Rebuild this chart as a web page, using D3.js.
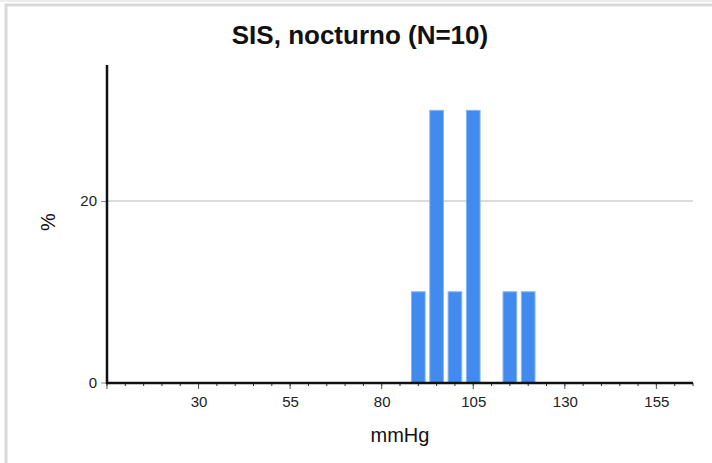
<!DOCTYPE html>
<html><head><meta charset="utf-8">
<script src="https://cdn.jsdelivr.net/npm/d3@7"></script>
<style>body{margin:0;background:#fff}svg{display:block}text{font-family:"Liberation Sans",Arial,sans-serif}</style>
</head><body>
<svg id="c" width="712" height="463"></svg>
<script>
const binCenters = [90, 95, 100, 105, 115, 120];
const percents = [10, 30, 10, 30, 10, 10];
const xTickValues = [30, 55, 80, 105, 130, 155];
const yTickValues = [0, 20];
const title = "SIS, nocturno (N=10)";
const xLabel = "mmHg";
const yLabel = "%";

const svg = d3.select("#c");
svg.append("rect").attr("x",-1).attr("y",-1).attr("width",714).attr("height",3).attr("fill","#ececec");
svg.append("rect").attr("x",6).attr("y",5).attr("width",720).attr("height",470)
  .attr("fill","none").attr("stroke","#d9d9d9").attr("stroke-width",3);

const x = d3.scaleLinear().domain([5,165]).range([107,693]);
const y = d3.scaleLinear().domain([0,35]).range([382.5,65]);

// gridline
svg.selectAll(".grid").data(yTickValues.filter(v=>v>0)).join("line")
  .attr("x1",107).attr("x2",693).attr("y1",d=>y(d)).attr("y2",d=>y(d))
  .attr("stroke","#dcdcdc").attr("stroke-width",2);

// bars
const bw = x(5)-x(0);
svg.selectAll(".bar").data(binCenters).join("rect")
  .attr("x",(d)=>x(d)-bw*0.4+0.5).attr("width",bw*0.8-1)
  .attr("y",(d,i)=>y(percents[i])).attr("height",(d,i)=>y(0)-y(percents[i]))
  .attr("fill","#418bef").attr("stroke","#86b3f3").attr("stroke-width",1);

// x axis minor ticks
const minor = d3.range(5,166,5);
svg.selectAll(".mt").data(minor).join("line")
  .attr("x1",d=>x(d)).attr("x2",d=>x(d)).attr("y1",383).attr("y2",386)
  .attr("stroke","#333").attr("stroke-width",1);
svg.selectAll(".Mt").data([5].concat(xTickValues)).join("line")
  .attr("x1",d=>x(d)).attr("x2",d=>x(d)).attr("y1",383).attr("y2",389)
  .attr("stroke","#555").attr("stroke-width",1);
const xAxis = d3.axisBottom(x).tickValues(xTickValues).tickSize(0).tickPadding(13);
const gx = svg.append("g").attr("transform","translate(0,383)").call(xAxis);
gx.select(".domain").remove();
gx.selectAll("text").attr("font-size",15).attr("fill","#222").attr("font-family","Liberation Sans, Arial, sans-serif");
svg.append("line").attr("x1",106).attr("x2",693).attr("y1",383).attr("y2",383).attr("stroke","#111").attr("stroke-width",2.5);

// y axis
const yAxis = d3.axisLeft(y).tickValues(yTickValues).tickSize(6).tickPadding(4);
const gy = svg.append("g").attr("transform","translate(107,0)").call(yAxis);
gy.select(".domain").remove();
gy.selectAll("line").attr("stroke","#888");
gy.selectAll("text").attr("font-size",15).attr("fill","#222").attr("font-family","Liberation Sans, Arial, sans-serif");
svg.append("line").attr("x1",107).attr("x2",107).attr("y1",65).attr("y2",384).attr("stroke","#111").attr("stroke-width",2.5);

svg.append("text").attr("x",360).attr("y",44).attr("text-anchor","middle")
  .attr("font-size",26).attr("font-weight","bold").attr("fill","#111").text(title);
svg.append("text").attr("x",400).attr("y",442).attr("text-anchor","middle")
  .attr("font-size",20).attr("fill","#111").text(xLabel);
svg.append("text").attr("transform","translate(55,222) rotate(-90)").attr("text-anchor","middle")
  .attr("font-size",20).attr("fill","#111").text(yLabel);
</script>
</body></html>
